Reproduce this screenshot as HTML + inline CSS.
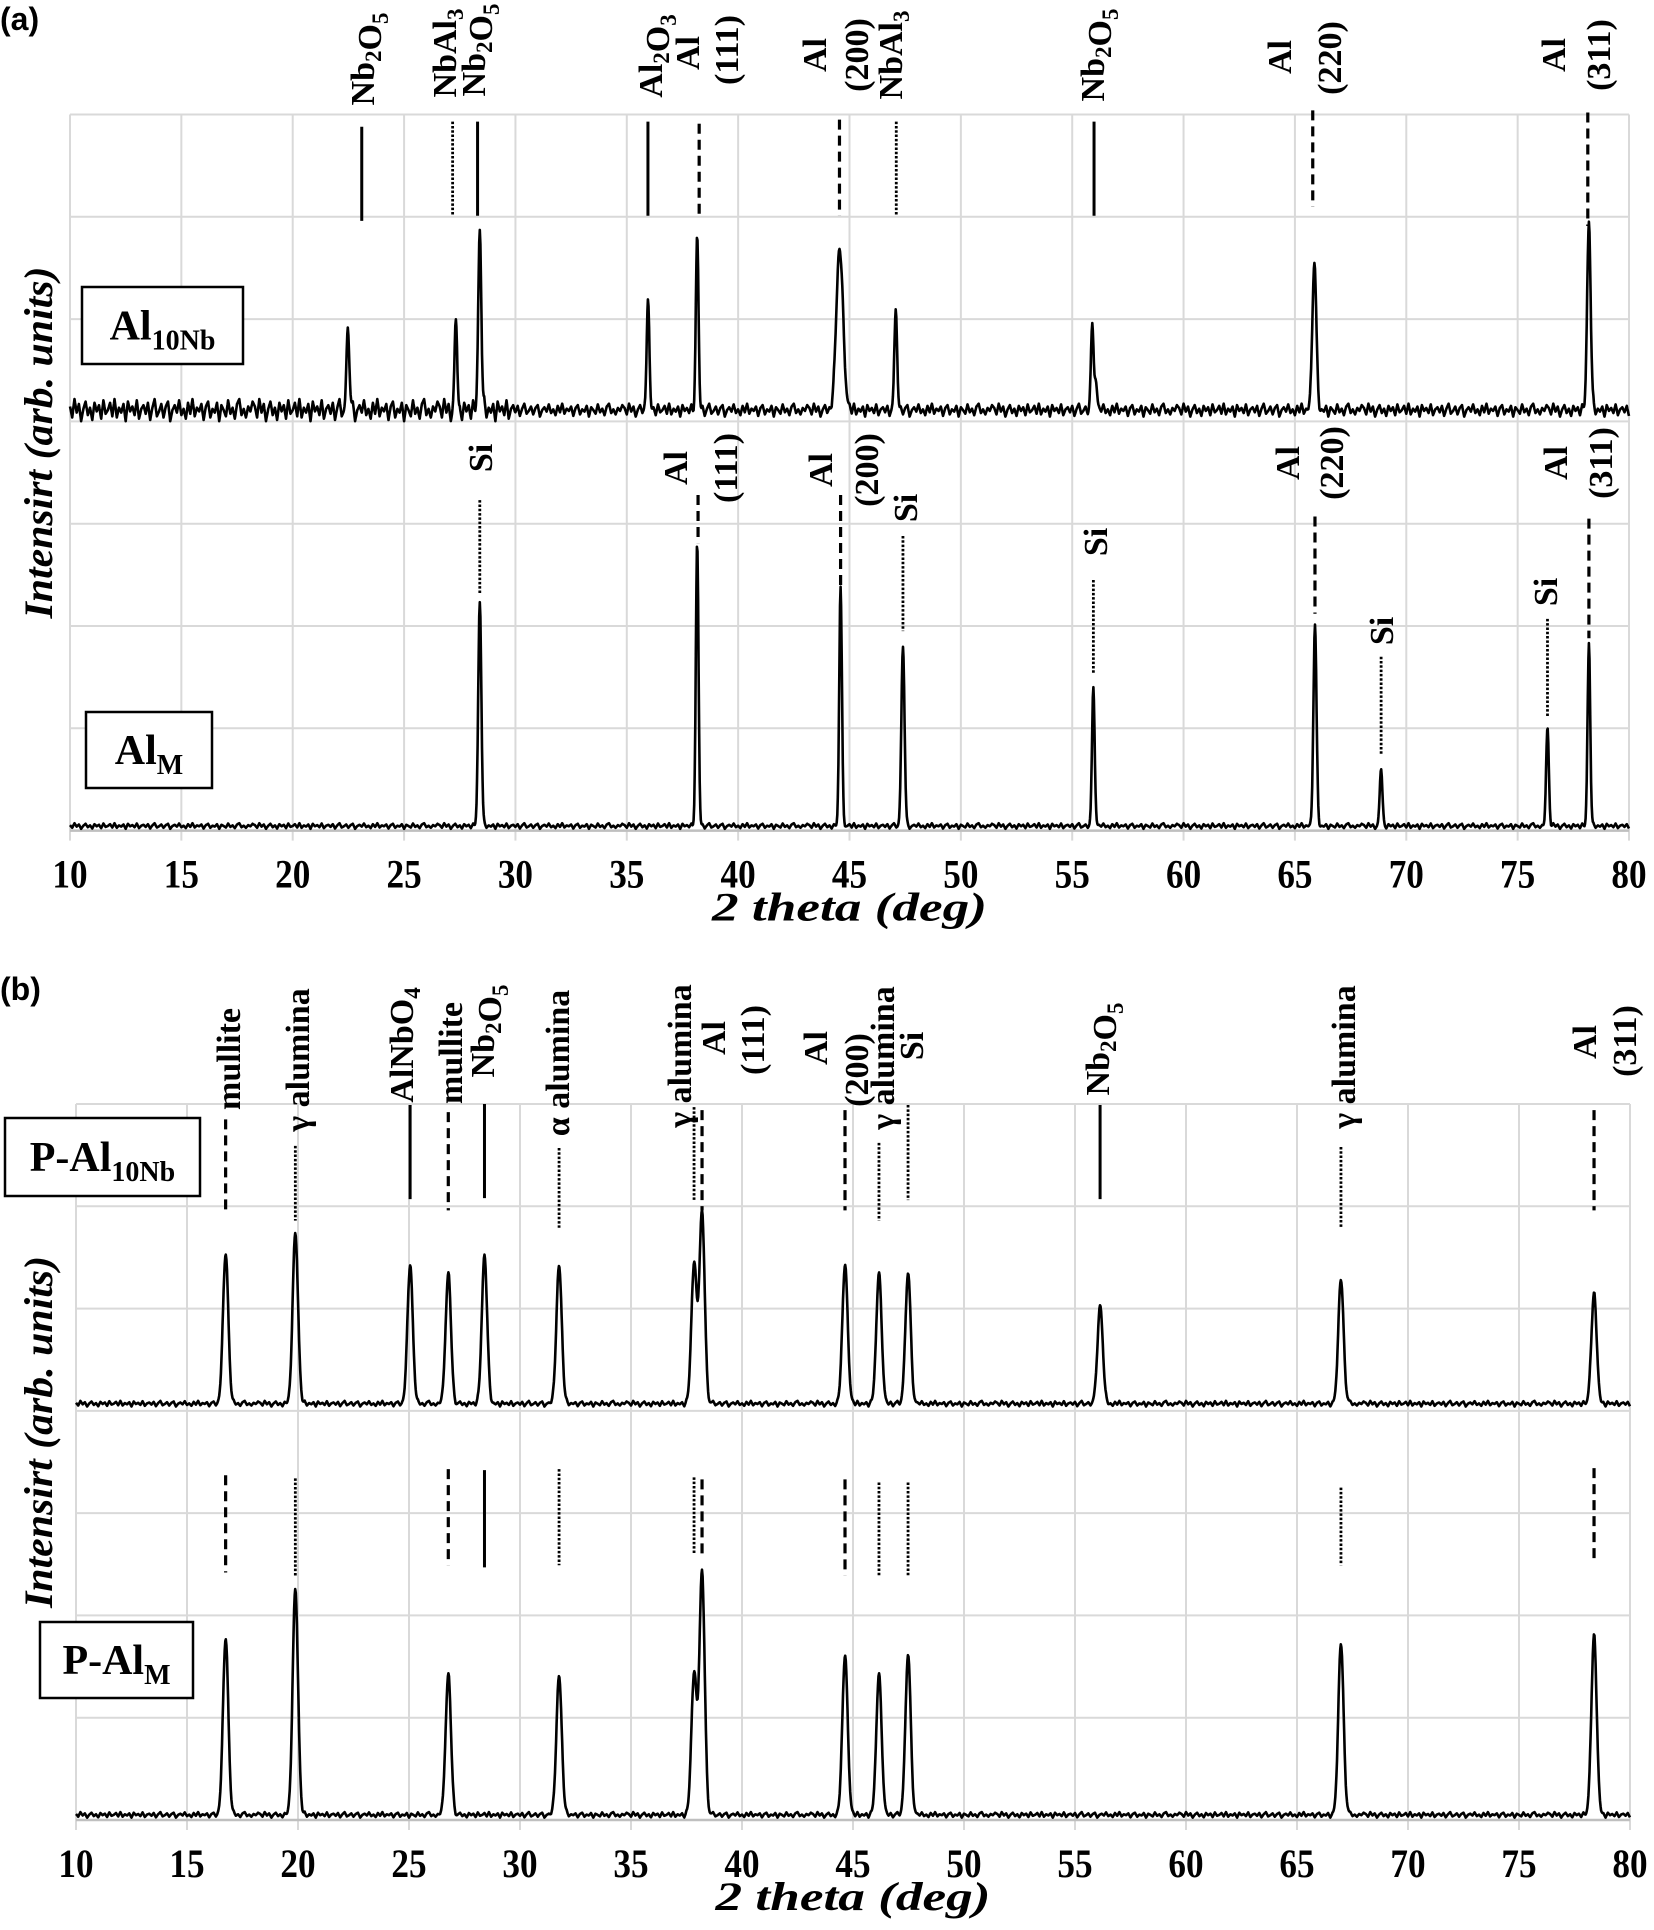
<!DOCTYPE html>
<html><head><meta charset="utf-8">
<style>
html,body{margin:0;padding:0;background:#fff;}
svg{display:block;}
text{font-family:"Liberation Serif",serif;font-weight:bold;fill:#000;}
</style></head>
<body>
<svg id="chart" width="1654" height="1930" viewBox="0 0 1654 1930" xmlns="http://www.w3.org/2000/svg">
<g id="layer"></g>
</svg>
<script>
// ---------- data ----------
const xTicks = [10,15,20,25,30,35,40,45,50,55,60,65,70,75,80];
// panel (a) upper: Al10Nb
const al10nbOffset = 4.11;
const al10nbPos = [22.48,27.33,28.4,35.95,38.16,44.56,47.08,55.9,56.05,65.87,78.2];
const al10nbInt = [0.85,0.84,1.69,1.09,1.69,1.59,1.0,0.79,0.3,1.44,1.80];
const al10nbWid = [0.06,0.06,0.07,0.06,0.06,0.15,0.06,0.06,0.06,0.09,0.08];
// panel (a) lower: AlM
const almOffset = 0.045;
const almPos = [28.4,38.16,44.6,47.4,55.95,65.9,68.87,76.34,78.2];
const almInt = [2.17,2.76,2.36,1.77,1.36,1.96,0.56,0.95,1.77];
const almWid = [0.07,0.06,0.06,0.07,0.06,0.07,0.06,0.06,0.06];
// panel (b) upper: P-Al10Nb
const pal10nbOffset = 4.07;
const pal10nbPos = [16.74,19.88,25.05,26.77,28.4,31.76,37.84,38.2,44.64,46.17,47.48,56.13,66.98,78.38];
const pal10nbInt = [1.47,1.67,1.36,1.27,1.44,1.36,1.36,1.87,1.36,1.27,1.27,0.96,1.21,1.07];
// panel (b) lower: P-AlM
const palmOffset = 0.05;
const palmPos = [16.74,19.88,26.77,31.76,37.84,38.2,44.64,46.17,47.48,66.98,78.38];
const palmInt = [1.73,2.21,1.37,1.37,1.37,2.37,1.56,1.37,1.56,1.67,1.75];
// reference markers [deg, top, bottom, style]
const markA = [[23.1,6.88,5.96,'s'],[27.18,6.93,6.01,'o'],[28.3,6.93,6.01,'s'],[35.95,6.93,6.01,'s'],[38.25,6.91,6.01,'d'],[44.55,6.95,6.01,'d'],[47.1,6.93,6.01,'o'],[55.98,6.93,6.01,'s'],[65.8,7.04,6.10,'d'],[78.15,7.02,5.91,'d'],
 [28.4,3.23,2.31,'o'],[38.2,3.28,2.81,'d'],[44.6,3.28,2.40,'d'],[47.4,2.88,1.95,'o'],[55.95,2.45,1.53,'o'],[65.9,3.07,2.12,'d'],[68.87,1.70,0.75,'o'],[76.34,2.07,1.12,'o'],[78.2,3.05,1.88,'d']];
const markB = [[16.74,6.85,5.92,'d'],[19.88,6.59,5.86,'o'],[25.05,6.99,6.07,'s'],[26.77,6.92,5.96,'d'],[28.4,7.0,6.08,'s'],[31.76,6.57,5.79,'o'],[37.84,6.97,6.05,'o'],[38.2,6.94,5.96,'d'],[44.64,6.94,5.96,'d'],[46.17,6.62,5.86,'o'],[47.48,6.99,6.06,'o'],[56.13,6.99,6.07,'s'],[66.98,6.58,5.79,'o'],[78.38,6.94,5.96,'d'],
 [16.74,3.37,2.42,'d'],[19.88,3.34,2.39,'o'],[26.77,3.43,2.49,'d'],[28.4,3.42,2.47,'s'],[31.76,3.43,2.49,'o'],[37.84,3.35,2.61,'o'],[38.2,3.33,2.60,'d'],[44.64,3.33,2.39,'d'],[46.17,3.30,2.38,'o'],[47.48,3.30,2.38,'o'],[66.98,3.25,2.49,'o'],[78.38,3.44,2.51,'d']];
const noise = [0.3,-0.6,0.9,-0.2,0.5,-0.9,0.1,0.7,-0.4,0.2,-0.8,0.6,-0.1,0.4,-0.7,0.8,-0.3,0.0,0.6,-0.5,0.9,-0.6,0.2,-0.2,0.5,-0.9,0.7,-0.1,0.3,-0.4,0.8,-0.7,0.1,0.4,-0.3,0.6,-0.8,0.2,0.9,-0.5,-0.1,0.5,-0.6,0.3,0.7,-0.9,0.0,0.4,-0.2,0.8,-0.4,0.1,-0.7,0.6,-0.3,0.9,-0.5,0.2,-0.1,0.5,-0.8,0.3,0.7,-0.6,0.1,-0.2,0.6,-0.9,0.4,0.0,-0.5,0.8,-0.3,0.2,-0.7,0.5,0.9,-0.4,0.1,-0.6,0.3,-0.1,0.7];

// ---------- layout ----------
const NS='http://www.w3.org/2000/svg';
const layer=document.getElementById('layer');
const panels={
 a:{x0:70,x1:1629,top:114.5,bot:830.6},
 b:{x0:76,x1:1630,top:1104,bot:1820}
};
function xs(p,d){return p.x0+(d-10)*(p.x1-p.x0)/70;}
function ys(p,v){return p.bot-v*(p.bot-p.top)/7;}
function mk(tag,attrs,parent){const e=document.createElementNS(NS,tag);for(const k in attrs)e.setAttribute(k,attrs[k]);(parent||layer).appendChild(e);return e;}

function drawFrame(p,key){
  const g=mk('g',{});
  
  
  for(let i=0;i<=7;i++){
    const y=ys(p,i);
    const l=mk('line',{x1:p.x0,x2:p.x1,y1:y,y2:y,stroke:'#d9d9d9','stroke-width':2},g);
    
    
  }
  xTicks.forEach(t=>{
    const x=xs(p,t);
    const l=mk('line',{x1:x,x2:x,y1:p.top,y2:p.bot+10,stroke:'#d9d9d9','stroke-width':2},g);
    
    
    const tx=mk('text',{x:x,y:p.bot+57,'text-anchor':'middle','font-size':40,transform:`translate(${x},0) scale(0.88,1) translate(${-x},0)`});
    tx.textContent=t;
    
    
  });
  const ax=mk('line',{x1:p.x0,x2:p.x1,y1:p.bot,y2:p.bot,stroke:'#bfbfbf','stroke-width':2.5});
  
  
  const tt=mk('text',{x:(p.x0+p.x1)/2,y:p.bot+90,'text-anchor':'middle','font-size':40,'font-style':'italic',textLength:275,lengthAdjust:'spacingAndGlyphs'});
  tt.textContent='2 theta (deg)';
  
  
  const cy=(p.top+p.bot)/2-30;
  const yt=mk('text',{transform:`translate(52,${cy}) rotate(-90)`,'text-anchor':'middle','font-size':40,'font-style':'italic',textLength:352,lengthAdjust:'spacingAndGlyphs'});
  yt.textContent='Intensirt (arb. units)';
  
  
}

function trace(p,offset,pos,ints,wids,defW,ampFn,name){
  let d='';
  const step=0.025;
  for(let i=0;i<=2800;i++){
    const t=10+i*step;
    let v=offset;
    for(let k=0;k<pos.length;k++){
      const w=wids?wids[k]:defW;
      const z=(t-pos[k])/w;
      if(Math.abs(z)<6)v+=ints[k]*Math.exp(-0.5*z*z);
    }
    const f=(t-10)/0.1, n0=Math.floor(f), fr=f-n0;
    const nz=noise[n0%noise.length]*(1-fr)+noise[(n0+1)%noise.length]*fr;
    v+=nz*ampFn(t);
    d+=(i?'L':'M')+xs(p,t).toFixed(1)+' '+ys(p,v).toFixed(1);
  }
  const path=mk('path',{d:d,fill:'none',stroke:'#000','stroke-width':2.6,'stroke-linejoin':'round'});
  
  
}

function markers(p,list,key){
  list.forEach(m=>{
    const st={s:{w:3,da:''},d:{w:3.2,da:'10 6'},o:{w:2.8,da:'2.5 1.8'}}[m[3]];
    const a={x1:xs(p,m[0]),x2:xs(p,m[0]),y1:ys(p,m[1]),y2:ys(p,m[2]),stroke:'#000','stroke-width':st.w};
    if(st.da)a['stroke-dasharray']=st.da;
    const l=mk('line',a);
    
    
  });
}

function label(x,y,html,name){
  const t=mk('text',{transform:`translate(${x},${y}) rotate(-90)`,'text-anchor':'middle',dy:'0.35em','font-size':34});
  t.innerHTML=html;
  
  
}
const S=(n)=>`<tspan font-size="23" dy="7">${n}</tspan><tspan dy="-7"></tspan>`;

function box(x,y,w,h,main,sub,name){
  const r=mk('rect',{x:x,y:y,width:w,height:h,fill:'#fff',stroke:'#000','stroke-width':2.5});
  
  
  const t=mk('text',{x:x+w/2,y:y+h/2+14,'text-anchor':'middle','font-size':42});
  t.innerHTML=`${main}<tspan font-size="28" dy="10">${sub}</tspan>`;
  
  
}

// ---------- draw ----------
const A=panels.a,B=panels.b;
drawFrame(A,'a');drawFrame(B,'b');
markers(A,markA,'a');markers(B,markB,'b');
trace(A,al10nbOffset,al10nbPos,al10nbInt,al10nbWid,0,t=>t<30?0.12:0.07,'trace-al10nb');
trace(A,almOffset,almPos,almInt,almWid,0,t=>0.03,'trace-alm');
trace(B,pal10nbOffset,pal10nbPos,pal10nbInt,null,0.12,t=>0.03,'trace-p-al10nb');
trace(B,palmOffset,palmPos,palmInt,null,0.12,t=>0.03,'trace-p-alm');

box(82,287,161,77,'Al','10Nb','box-al10nb');
box(86,712,126,76,'Al','M','box-alm');
box(5,1118,195,78,'P-Al','10Nb','box-p-al10nb');
box(40,1622,153,76,'P-Al','M','box-p-alm');

// panel a top labels
label(362,59,'Nb'+S(2)+'O'+S(5),'label-nb2o5');
label(444,53,'NbAl'+S(3),'label-nbal3');
label(473,50,'Nb'+S(2)+'O'+S(5),'label-nb2o5');
label(650,56,'Al'+S(2)+'O'+S(3),'label-al2o3');
label(687,53,'Al','label-al');label(726,50,'(111)','label-hkl');
label(814,55,'Al','label-al');label(856,55,'(200)','label-hkl');
label(890,55,'NbAl'+S(3),'label-nbal3');
label(1092,55,'Nb'+S(2)+'O'+S(5),'label-nb2o5');
label(1279,57,'Al','label-al');label(1329,58,'(220)','label-hkl');
label(1553,55,'Al','label-al');label(1598,55,'(311)','label-hkl');
// panel a lower labels
label(480,458,'Si','label-si');
label(675,468,'Al','label-al');label(725,468,'(111)','label-hkl');
label(820,470,'Al','label-al');label(866,470,'(200)','label-hkl');
label(905,508,'Si','label-si');
label(1095,542,'Si','label-si');
label(1287,463,'Al','label-al');label(1331,463,'(220)','label-hkl');
label(1381,631,'Si','label-si');
label(1545,592,'Si','label-si');
label(1555,463,'Al','label-al');label(1600,463,'(311)','label-hkl');
// panel b labels
label(228,1059,'mullite','label-mullite');
label(297,1060,'γ alumina','label-gamma-alumina');
label(401,1045,'AlNbO'+S(4),'label-alnbo4');
label(450,1053,'mullite','label-mullite');
label(482,1031,'Nb'+S(2)+'O'+S(5),'label-nb2o5');
label(557,1063,'α alumina','label-alpha-alumina');
label(679,1056,'γ alumina','label-gamma-alumina');
label(713,1038,'Al','label-al');label(752,1040,'(111)','label-hkl');
label(815,1048,'Al','label-al');label(856,1070,'(200)','label-hkl');
label(882,1058,'γ alumina','label-gamma-alumina');
label(911,1046,'Si','label-si');
label(1097,1049,'Nb'+S(2)+'O'+S(5),'label-nb2o5');
label(1343,1057,'γ alumina','label-gamma-alumina');
label(1584,1042,'Al','label-al');label(1624,1041,'(311)','label-hkl');

// panel letters
[['(a)',30],['(b)',1000]].forEach(p=>{
  const t=mk('text',{x:0,y:p[1],'font-size':32,style:'font-family:"Liberation Sans",sans-serif'});
  t.textContent=p[0];
  
  
});
</script>
</body></html>
